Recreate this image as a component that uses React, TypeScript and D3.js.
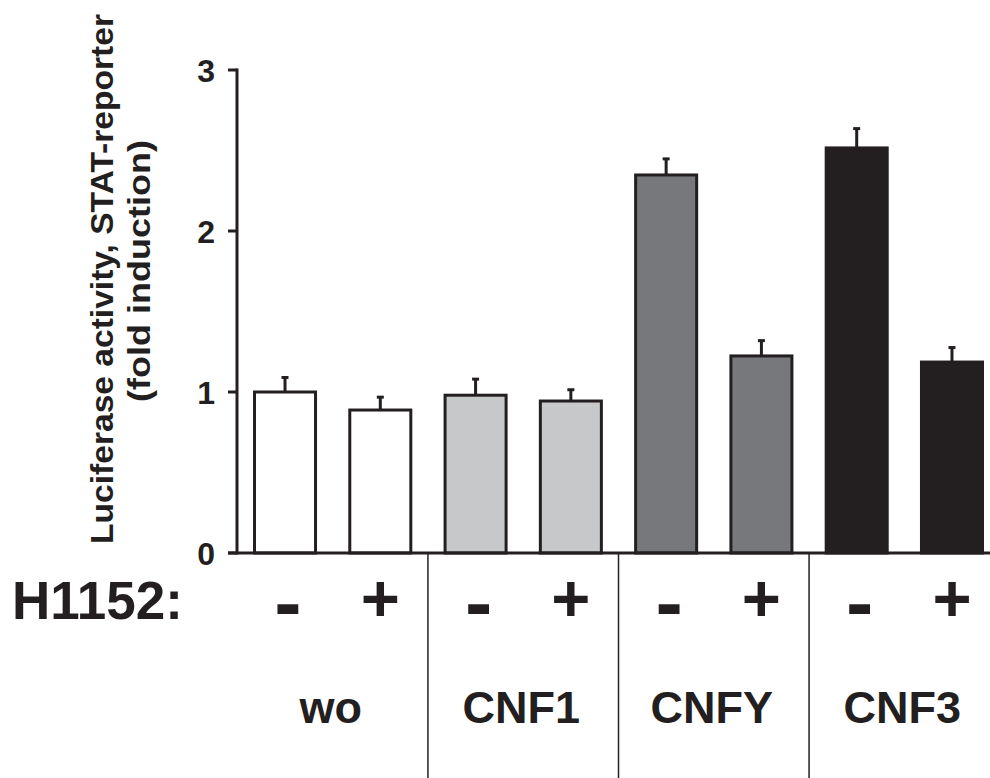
import React from 'react';
import * as d3 from 'd3';

const groups = ['wo', 'CNF1', 'CNFY', 'CNF3'];
const treatments = ['-', '+'];
const means = [1.0, 0.888, 0.98, 0.944, 2.348, 1.224, 2.516, 1.186];
const errors = [0.09, 0.08, 0.1, 0.07, 0.1, 0.095, 0.12, 0.09];
const groupColors = ['#ffffff', '#c7c8ca', '#77787b', '#231f20'];
const yTicks = [0, 1, 2, 3];
const yLabelLines = ['Luciferase activity, STAT-reporter', '(fold induction)'];
const rowLabel = 'H1152:';

const W = 990;
const H = 778;
const INK = '#231f20';
const FONT = '"Liberation Sans", Arial, Helvetica, sans-serif';

export default function App() {
  const idx = d3.range(means.length);
  const x = d3
    .scaleBand<number>()
    .domain(idx)
    .range([237, 1000])
    .paddingInner(0.328)
    .paddingOuter(0.168);
  const y = d3.scaleLinear().domain([0, 3]).range([553, 70]);
  const bw = x.bandwidth();
  const y0 = y(0);

  return (
    <svg
      width={W}
      height={H}
      style={{ position: 'absolute', left: 0, top: 0, background: '#fff' }}
      fontFamily={FONT}
      fontWeight="bold"
    >
      <rect x={0} y={0} width={W} height={H} fill="#fff" />
      {/* bars */}
      {idx.map((i) => (
        <rect
          key={'b' + i}
          x={x(i)! + 1.5}
          y={y(means[i])}
          width={bw - 3}
          height={y0 - y(means[i])}
          fill={groupColors[Math.floor(i / 2)]}
          stroke={INK}
          strokeWidth={3}
        />
      ))}
      {/* error bars */}
      {idx.map((i) => {
        const cx = x(i)! + bw / 2;
        const top = y(means[i] + errors[i]);
        return (
          <g key={'e' + i} stroke={INK} strokeWidth={3}>
            <line x1={cx} x2={cx} y1={y(means[i])} y2={top} />
            <line x1={cx - 3.5} x2={cx + 3.5} y1={top} y2={top} />
          </g>
        );
      })}
      {/* axes */}
      <line x1={237} x2={237} y1={y(3) - 1.5} y2={y0 + 1.5} stroke={INK} strokeWidth={3} />
      <line x1={228} x2={W} y1={y0} y2={y0} stroke={INK} strokeWidth={3} />
      {yTicks.map((t) => (
        <g key={'t' + t}>
          <line x1={228} x2={237} y1={y(t)} y2={y(t)} stroke={INK} strokeWidth={3} />
          <text x={215} y={y(t) + 11.5} textAnchor="end" fontSize={32} fill={INK}>
            {t}
          </text>
        </g>
      ))}
      {/* y label */}
      <text
        transform={`translate(113,279) rotate(-90)`}
        textAnchor="middle"
        fontSize={31}
        fill={INK}
        textLength={530}
        lengthAdjust="spacingAndGlyphs"
      >
        {yLabelLines[0]}
      </text>
      <text
        transform={`translate(150,271) rotate(-90)`}
        textAnchor="middle"
        fontSize={31}
        fill={INK}
        textLength={262}
        lengthAdjust="spacingAndGlyphs"
      >
        {yLabelLines[1]}
      </text>
      {/* separators */}
      {d3.range(1, groups.length).map((g) => {
        const sx = (x(2 * g - 1)! + bw + x(2 * g)!) / 2;
        return <line key={'s' + g} x1={sx} x2={sx} y1={y0} y2={H} stroke={INK} strokeWidth={1.5} />;
      })}
      {/* row label */}
      <text x={12} y={619} fontSize={53} fill={INK}>
        {rowLabel}
      </text>
      {/* treatment signs */}
      {idx.map((i) => {
        const cx = x(i)! + bw / 2;
        const t = treatments[i % 2];
        return t === '-' ? (
          <text key={'m' + i} x={cx + 3} y={630} textAnchor="middle" fontSize={82} fill={INK}>
            -
          </text>
        ) : (
          <text key={'p' + i} x={cx} y={621} textAnchor="middle" fontSize={67} fill={INK}>
            +
          </text>
        );
      })}
      {/* group labels */}
      {groups.map((g, gi) => {
        const cx = (x(2 * gi)! + x(2 * gi + 1)! + bw) / 2;
        return (
          <text key={'g' + gi} x={cx - 2} y={723} textAnchor="middle" fontSize={45} fill={INK}>
            {g}
          </text>
        );
      })}
    </svg>
  );
}
